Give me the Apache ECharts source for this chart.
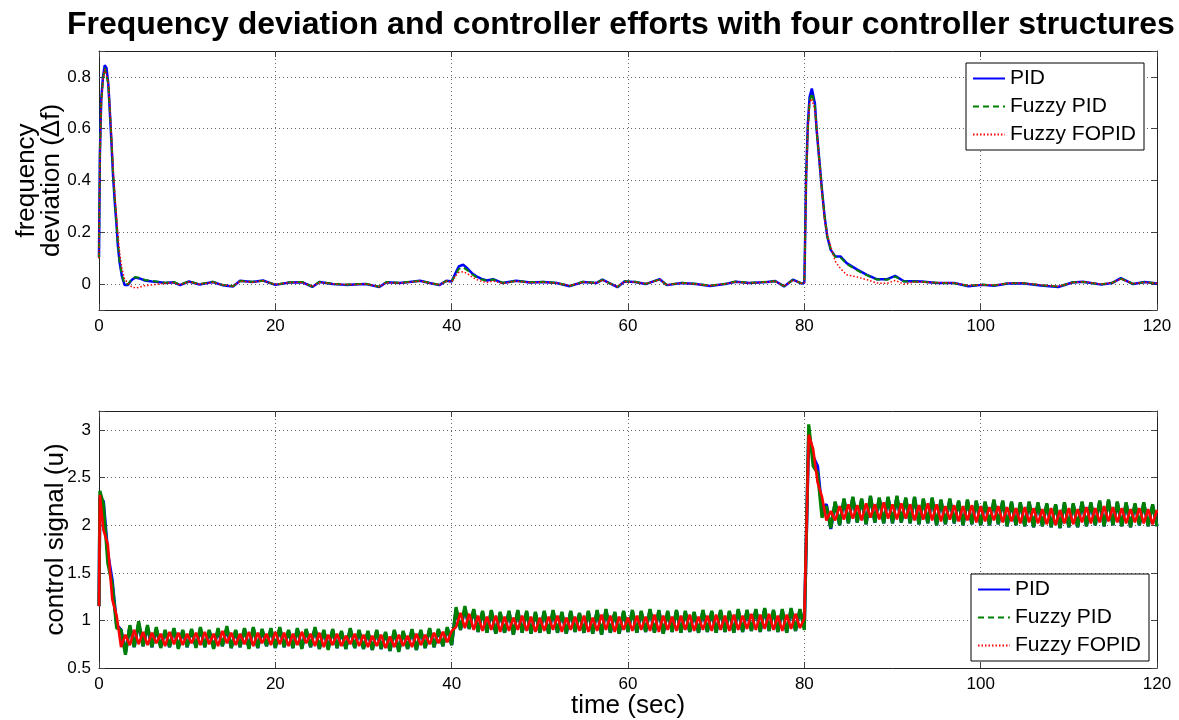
<!DOCTYPE html>
<html>
<head>
    <meta charset="utf-8">
    <script src="https://cdn.jsdelivr.net/npm/echarts@6.0.0/dist/echarts.min.js"></script>
    <style>
        body { margin: 0; background: #fff; }
        #main { width: 1179px; height: 720px; }
    </style>
</head>

<body>
    <div id="main"></div>

    <script type="text/javascript">
        var names = ['PID', 'Fuzzy PID', 'Fuzzy FOPID'];
        var colors = ['#0000ff', '#008000', '#ff0000'];

        // top plot: frequency deviation, sample times (sec)
        var tF = [
            0, 0.1, 0.25, 0.45, 0.65, 0.85, 1.05, 1.2, 1.4, 1.6,
            1.8, 2.0, 2.15, 2.35, 2.6, 2.9, 3.3, 3.7, 4.1, 4.6,
            5.2, 6, 6.7, 7.5, 8.5, 9.2, 10.2, 11.4, 12.9, 14,
            15.2, 16, 17.4, 18.6, 20, 21.6, 23.1, 24.2, 25, 26.5,
            28, 29.5, 30.3, 31.8, 32.6, 34.1, 35.2, 36.4, 37.5, 38.6,
            39.4, 40, 40.4, 40.8, 41.3, 41.8, 42.3, 42.8, 43.4, 44,
            44.7, 45.8, 47.3, 48.9, 50.4, 51.9, 53.4, 54.9, 56.4, 57.1,
            58.8, 59.6, 60.8, 62, 63.6, 64.4, 66.1, 67.7, 69.3, 71,
            72.2, 73.8, 75.8, 76.7, 77.7, 78.7, 79.7, 80, 80.1, 80.2,
            80.4, 80.6, 80.85, 81.2, 81.4, 81.7, 82, 82.3, 82.6, 83,
            83.5, 84.1, 84.8, 86, 87.1, 88.2, 89.4, 90.3, 91.3, 92.4,
            93.3, 95, 97, 98.6, 100.2, 101.5, 103.1, 104.7, 106.8, 108.8,
            110.4, 111.6, 113.7, 114.9, 115.9, 117.3, 118.6, 120
        ];
        var pidF = [
            0.105, 0.5, 0.71, 0.8, 0.845, 0.835, 0.774, 0.684, 0.556, 0.415,
            0.312, 0.222, 0.145, 0.081, 0.03, -0.003, -0.003, 0.016, 0.025, 0.022,
            0.014, 0.01, 0.008, 0.004, 0.007, -0.004, 0.01, -0.002, 0.008, -0.004,
            -0.009, 0.013, 0.008, 0.014, -0.003, 0.006, 0.007, -0.011, 0.008, 0,
            -0.003, -0.001, 0, -0.011, 0.007, 0.004, 0.008, 0.013, 0.004, -0.004,
            0.013, 0.01, 0.04, 0.068, 0.075, 0.06, 0.042, 0.03, 0.02, 0.014,
            0.019, 0.004, 0.013, 0.006, 0.008, 0.004, -0.008, 0.008, 0.004, 0.017,
            -0.012, 0.01, 0.008, 0, 0.019, -0.004, 0.004, 0, -0.007, 0,
            0.009, 0.004, 0.008, 0.012, -0.009, 0.017, 0.002, 0.005, 0.197, 0.414,
            0.62, 0.723, 0.755, 0.697, 0.594, 0.479, 0.364, 0.26, 0.184, 0.132,
            0.107, 0.107, 0.081, 0.056, 0.036, 0.019, 0.019, 0.032, 0.011, 0.011,
            0.01, 0.004, 0.004, -0.008, -0.003, -0.006, 0.002, 0.003, -0.005, -0.011,
            0.006, 0.009, -0.002, 0.004, 0.023, 0, 0.008, 0.002
        ];
        var fpidF = [
            0.1, 0.49, 0.7, 0.79, 0.835, 0.83, 0.775, 0.69, 0.565, 0.425,
            0.32, 0.23, 0.15, 0.085, 0.034, 0, 0, 0.018, 0.027, 0.024,
            0.016, 0.012, 0.009, 0.005, 0.008, -0.002, 0.011, 0, 0.009, -0.003,
            -0.008, 0.012, 0.009, 0.013, -0.002, 0.007, 0.008, -0.01, 0.009, 0.001,
            -0.002, 0, 0.001, -0.01, 0.008, 0.005, 0.009, 0.012, 0.005, -0.003,
            0.012, 0.01, 0.035, 0.058, 0.065, 0.053, 0.038, 0.027, 0.018, 0.013,
            0.018, 0.005, 0.012, 0.007, 0.009, 0.005, -0.007, 0.009, 0.005, 0.016,
            -0.011, 0.011, 0.009, 0.001, 0.018, -0.003, 0.005, 0.001, -0.006, 0.001,
            0.01, 0.005, 0.009, 0.011, -0.008, 0.016, 0.003, 0.005, 0.19, 0.4,
            0.6, 0.705, 0.738, 0.69, 0.59, 0.478, 0.365, 0.262, 0.186, 0.133,
            0.105, 0.103, 0.078, 0.053, 0.034, 0.018, 0.017, 0.029, 0.01, 0.01,
            0.009, 0.005, 0.003, -0.007, -0.002, -0.005, 0.003, 0.004, -0.004, -0.01,
            0.007, 0.008, -0.001, 0.005, 0.021, 0.001, 0.007, 0.003
        ];
        var fopidF = [
            0.1, 0.48, 0.69, 0.79, 0.83, 0.825, 0.78, 0.7, 0.58, 0.45,
            0.345, 0.26, 0.19, 0.12, 0.06, 0.02, 0.003, -0.01, -0.015, -0.012,
            -0.006, -0.003, 0, 0.003, 0.006, -0.003, 0.009, -0.001, 0.007, -0.003,
            -0.008, 0.012, 0.007, 0.013, -0.002, 0.006, 0.006, -0.01, 0.007, 0.001,
            -0.002, -0.001, 0.001, -0.01, 0.006, 0.004, 0.007, 0.012, 0.004, -0.003,
            0.011, 0.008, 0.03, 0.045, 0.048, 0.04, 0.028, 0.018, 0.01, 0.006,
            0.012, 0.003, 0.011, 0.006, 0.007, 0.004, -0.006, 0.008, 0.004, 0.015,
            -0.01, 0.009, 0.008, 0.001, 0.017, -0.003, 0.004, 0, -0.006, 0.001,
            0.008, 0.004, 0.008, 0.011, -0.008, 0.015, 0.003, 0.005, 0.18, 0.39,
            0.6, 0.7, 0.716, 0.671, 0.6, 0.48, 0.35, 0.25, 0.19, 0.145,
            0.088, 0.06, 0.036, 0.027, 0.017, 0.004, 0.003, 0.014, 0, 0.008,
            0.008, 0.005, 0.005, -0.006, -0.002, -0.004, 0.003, 0.004, -0.003, -0.009,
            0.006, 0.009, 0, 0.005, 0.02, 0.002, 0.007, 0.003
        ];

        // bottom plot: control signal, sample times (sec)
        var tU = [
            0, 0.1,
            0.5, 1, 1.5, 2, 2.5, 3, 3.5, 4, 4.5, 5, 5.5, 6, 6.5, 7, 7.5, 8, 8.5, 9, 9.5, 10,
            10.5, 11, 11.5, 12, 12.5, 13, 13.5, 14, 14.5, 15, 15.5, 16, 16.5, 17, 17.5, 18, 18.5, 19, 19.5, 20,
            20.5, 21, 21.5, 22, 22.5, 23, 23.5, 24, 24.5, 25, 25.5, 26, 26.5, 27, 27.5, 28, 28.5, 29, 29.5, 30,
            30.5, 31, 31.5, 32, 32.5, 33, 33.5, 34, 34.5, 35, 35.5, 36, 36.5, 37, 37.5, 38, 38.5, 39, 39.5, 40,
            40.5, 41, 41.5, 42, 42.5, 43, 43.5, 44, 44.5, 45, 45.5, 46, 46.5, 47, 47.5, 48, 48.5, 49, 49.5, 50,
            50.5, 51, 51.5, 52, 52.5, 53, 53.5, 54, 54.5, 55, 55.5, 56, 56.5, 57, 57.5, 58, 58.5, 59, 59.5, 60,
            60.5, 61, 61.5, 62, 62.5, 63, 63.5, 64, 64.5, 65, 65.5, 66, 66.5, 67, 67.5, 68, 68.5, 69, 69.5, 70,
            70.5, 71, 71.5, 72, 72.5, 73, 73.5, 74, 74.5, 75, 75.5, 76, 76.5, 77, 77.5, 78, 78.5, 79, 79.5, 80,
            80.5, 81, 81.5, 82, 82.5, 83, 83.5, 84, 84.5, 85, 85.5, 86, 86.5, 87, 87.5, 88, 88.5, 89, 89.5, 90,
            90.5, 91, 91.5, 92, 92.5, 93, 93.5, 94, 94.5, 95, 95.5, 96, 96.5, 97, 97.5, 98, 98.5, 99, 99.5, 100,
            100.5, 101, 101.5, 102, 102.5, 103, 103.5, 104, 104.5, 105, 105.5, 106, 106.5, 107, 107.5, 108, 108.5, 109, 109.5, 110,
            110.5, 111, 111.5, 112, 112.5, 113, 113.5, 114, 114.5, 115, 115.5, 116, 116.5, 117, 117.5, 118, 118.5, 119, 119.5, 120
        ];
        var pidU = [
            1.15, 2.3,
            2.25, 1.7, 1.42, 0.95, 0.9, 0.66, 0.94, 0.72, 0.97, 0.73, 0.93, 0.72, 0.91, 0.72, 0.89, 0.72, 0.91, 0.71, 0.89, 0.72,
            0.9, 0.72, 0.91, 0.72, 0.89, 0.71, 0.9, 0.73, 0.92, 0.71, 0.89, 0.72, 0.91, 0.71, 0.92, 0.71, 0.9, 0.73, 0.91, 0.71,
            0.92, 0.72, 0.89, 0.71, 0.91, 0.71, 0.9, 0.72, 0.92, 0.7, 0.89, 0.7, 0.9, 0.71, 0.88, 0.7, 0.91, 0.71, 0.89, 0.7,
            0.88, 0.69, 0.89, 0.7, 0.87, 0.68, 0.89, 0.68, 0.88, 0.7, 0.9, 0.69, 0.89, 0.71, 0.91, 0.72, 0.9, 0.73, 0.92, 0.74,
            1.12, 0.9, 1.13, 0.91, 1.11, 0.88, 1.09, 0.87, 1.1, 0.86, 1.08, 0.87, 1.09, 0.85, 1.1, 0.87, 1.09, 0.86, 1.08, 0.87,
            1.09, 0.86, 1.1, 0.87, 1.08, 0.86, 1.09, 0.88, 1.07, 0.87, 1.09, 0.86, 1.1, 0.85, 1.11, 0.87, 1.08, 0.86, 1.09, 0.88,
            1.1, 0.87, 1.09, 0.88, 1.11, 0.87, 1.1, 0.86, 1.09, 0.88, 1.1, 0.87, 1.09, 0.88, 1.08, 0.87, 1.1, 0.88, 1.09, 0.87,
            1.1, 0.88, 1.09, 0.87, 1.11, 0.88, 1.1, 0.89, 1.11, 0.88, 1.12, 0.89, 1.1, 0.88, 1.11, 0.87, 1.12, 0.89, 1.11, 0.92,
            2.98, 2.72, 2.62, 2.16, 2.22, 1.96, 2.24, 2, 2.27, 2.02, 2.29, 2.03, 2.27, 2.01, 2.3, 2.03, 2.28, 2.02, 2.29, 2.02,
            2.3, 2.03, 2.28, 2.02, 2.29, 2.01, 2.27, 2.02, 2.28, 2, 2.26, 2.01, 2.27, 2.02, 2.25, 2, 2.26, 2.01, 2.25, 2,
            2.24, 2, 2.26, 2.01, 2.25, 1.99, 2.24, 2, 2.23, 1.99, 2.24, 1.98, 2.23, 1.99, 2.22, 1.98, 2.21, 1.97, 2.23, 1.98,
            2.22, 1.98, 2.24, 1.99, 2.23, 2, 2.25, 1.99, 2.26, 2, 2.24, 1.99, 2.23, 1.98, 2.22, 2, 2.23, 1.99, 2.21, 1.99
        ];
        var fpidU = [
            1.15, 2.36,
            2.22, 1.6, 1.38, 0.92, 0.9, 0.64, 0.95, 0.72, 0.99, 0.73, 0.95, 0.72, 0.93, 0.71, 0.9, 0.72, 0.92, 0.7, 0.9, 0.72,
            0.91, 0.71, 0.93, 0.72, 0.9, 0.7, 0.92, 0.73, 0.94, 0.71, 0.9, 0.72, 0.92, 0.7, 0.93, 0.71, 0.91, 0.73, 0.92, 0.71,
            0.93, 0.72, 0.9, 0.71, 0.92, 0.7, 0.91, 0.72, 0.93, 0.7, 0.9, 0.69, 0.91, 0.71, 0.89, 0.7, 0.92, 0.71, 0.9, 0.7,
            0.89, 0.69, 0.9, 0.7, 0.88, 0.68, 0.9, 0.67, 0.89, 0.7, 0.91, 0.69, 0.9, 0.71, 0.92, 0.72, 0.91, 0.73, 0.93, 0.74,
            1.14, 0.9, 1.15, 0.91, 1.12, 0.88, 1.1, 0.87, 1.11, 0.86, 1.09, 0.87, 1.1, 0.85, 1.11, 0.87, 1.1, 0.86, 1.09, 0.87,
            1.1, 0.86, 1.11, 0.87, 1.09, 0.86, 1.1, 0.88, 1.08, 0.87, 1.1, 0.86, 1.11, 0.85, 1.12, 0.87, 1.09, 0.86, 1.1, 0.88,
            1.11, 0.87, 1.1, 0.88, 1.12, 0.87, 1.11, 0.86, 1.1, 0.88, 1.11, 0.87, 1.1, 0.88, 1.09, 0.87, 1.11, 0.88, 1.1, 0.87,
            1.11, 0.88, 1.1, 0.87, 1.12, 0.88, 1.11, 0.89, 1.12, 0.88, 1.13, 0.89, 1.11, 0.88, 1.12, 0.87, 1.13, 0.89, 1.12, 0.9,
            3.06, 2.62, 2.55, 2.08, 2.2, 1.97, 2.25, 2, 2.28, 2.02, 2.3, 2.03, 2.28, 2.01, 2.31, 2.03, 2.29, 2.02, 2.3, 2.02,
            2.31, 2.03, 2.29, 2.02, 2.3, 2.01, 2.28, 2.02, 2.29, 2, 2.27, 2.01, 2.28, 2.02, 2.26, 2, 2.27, 2.01, 2.26, 2,
            2.25, 2, 2.27, 2.01, 2.26, 1.99, 2.25, 2, 2.24, 1.99, 2.25, 1.98, 2.24, 1.99, 2.23, 1.98, 2.22, 1.97, 2.24, 1.98,
            2.23, 1.98, 2.25, 1.99, 2.24, 2, 2.26, 1.99, 2.27, 2, 2.25, 1.99, 2.24, 1.98, 2.23, 2, 2.24, 1.99, 2.22, 1.99
        ];
        var fopidU = [
            1.15, 2.32,
            1.95, 1.8, 1.22, 1.05, 0.72, 0.85, 0.74, 0.9, 0.75, 0.88, 0.74, 0.87, 0.76, 0.86, 0.73, 0.88, 0.75, 0.87, 0.74, 0.86,
            0.76, 0.87, 0.74, 0.88, 0.75, 0.86, 0.73, 0.89, 0.76, 0.87, 0.74, 0.86, 0.75, 0.88, 0.73, 0.87, 0.76, 0.86, 0.74, 0.88,
            0.75, 0.87, 0.73, 0.86, 0.74, 0.88, 0.76, 0.86, 0.73, 0.87, 0.72, 0.85, 0.74, 0.86, 0.73, 0.84, 0.75, 0.86, 0.73, 0.85,
            0.72, 0.84, 0.73, 0.85, 0.71, 0.83, 0.72, 0.85, 0.73, 0.84, 0.72, 0.86, 0.74, 0.85, 0.75, 0.87, 0.76, 0.88, 0.77, 0.89,
            0.93, 1.08, 0.92, 1.07, 0.9, 1.05, 0.89, 1.04, 0.9, 1.05, 0.88, 1.04, 0.89, 1.03, 0.9, 1.05, 0.89, 1.04, 0.88, 1.03,
            0.89, 1.04, 0.9, 1.05, 0.88, 1.03, 0.9, 1.04, 0.89, 1.05, 0.88, 1.03, 0.89, 1.06, 0.9, 1.05, 0.88, 1.04, 0.9, 1.03,
            0.89, 1.05, 0.9, 1.04, 0.89, 1.06, 0.88, 1.05, 0.9, 1.04, 0.89, 1.05, 0.9, 1.06, 0.89, 1.04, 0.9, 1.05, 0.89, 1.06,
            0.9, 1.05, 0.89, 1.06, 0.9, 1.05, 0.91, 1.07, 0.9, 1.06, 0.91, 1.07, 0.9, 1.05, 0.89, 1.06, 0.91, 1.07, 0.92, 1.02,
            2.95, 2.8, 2.45, 2.3, 2.05, 2.15, 2.05, 2.2, 2.06, 2.22, 2.07, 2.21, 2.05, 2.23, 2.08, 2.22, 2.06, 2.24, 2.07, 2.22,
            2.06, 2.23, 2.07, 2.22, 2.05, 2.21, 2.06, 2.23, 2.05, 2.22, 2.04, 2.2, 2.06, 2.21, 2.04, 2.2, 2.05, 2.21, 2.03, 2.2,
            2.04, 2.19, 2.05, 2.2, 2.03, 2.19, 2.04, 2.18, 2.02, 2.19, 2.03, 2.18, 2.02, 2.17, 2.01, 2.18, 2, 2.16, 2.02, 2.18,
            2.01, 2.17, 2.03, 2.19, 2.02, 2.18, 2.03, 2.2, 2.04, 2.19, 2.03, 2.18, 2.02, 2.17, 2.03, 2.18, 2.02, 2.17, 2.01, 2.16
        ];

        var font = 'Liberation Sans, Arial, sans-serif';

        function pairs(t, v) {
            return t.map(function (x, i) { return [x, v[i]]; });
        }

        // only label the "real" ticks, not the axis ends
        function onlyStep(step, lo, hi) {
            return function (v) {
                var k = Math.round(v / step);
                if (Math.abs(k * step - v) > 1e-6 || v < lo - 1e-6 || v > hi + 1e-6) return '';
                return String(Math.round(v * 10) / 10);
            };
        }

        var gridLine = { show: true, lineStyle: { color: '#666', type: [1, 3], width: 1 } };
        var axLine = { show: true, onZero: false, lineStyle: { color: '#222', width: 1 } };
        var tick = { show: true, inside: true, length: 6, lineStyle: { color: '#444' } };

        function xAx(grid, pos, labels, name) {
            return {
                type: 'value', gridIndex: grid, position: pos, min: 0, max: 120, interval: 20,
                axisLine: axLine, axisTick: tick,
                splitLine: pos === 'bottom' ? gridLine : { show: false },
                axisLabel: { show: labels, color: '#000', fontSize: 17, fontFamily: font, margin: 8 },
                name: name || '', nameLocation: 'middle', nameGap: 25, nameMoveOverlap: false,
                nameTextStyle: { color: '#000', fontSize: 26, fontFamily: font }
            };
        }

        function yAx(grid, pos, min, max, interval, fmt, name, gap) {
            var ax = {
                type: 'value', gridIndex: grid, position: pos, min: min, max: max,
                axisLine: axLine, axisTick: tick,
                splitLine: pos === 'left' ? gridLine : { show: false },
                axisLabel: { show: pos === 'left', color: '#000', fontSize: 17, fontFamily: font, margin: 8, formatter: fmt },
                name: name || '', nameLocation: 'middle', nameGap: gap || 30, nameRotate: 90, nameMoveOverlap: false,
                nameTextStyle: { color: '#000', fontSize: 26, fontFamily: font, lineHeight: 25 }
            };
            if (interval) ax.interval = interval; else ax.splitNumber = 5;
            return ax;
        }

        var topStyles = [
            { color: colors[0], width: 2.5, type: 'solid' },
            { color: colors[1], width: 2, type: [6, 4] },
            { color: colors[2], width: 1.5, type: [1.5, 2] }
        ];
        var botStyles = [
            { color: colors[0], width: 3.2, type: 'solid' },
            { color: colors[1], width: 3.2, type: 'solid' },
            { color: colors[2], width: 2.6, type: 'solid' }
        ];
        var topData = [pidF, fpidF, fopidF];
        var botData = [pidU, fpidU, fopidU];

        var series = [];
        names.forEach(function (n, i) {
            series.push({
                name: n, type: 'line', xAxisIndex: 0, yAxisIndex: 0, symbol: 'none',
                lineStyle: topStyles[i], itemStyle: { color: colors[i] },
                data: pairs(tF, topData[i])
            });
        });
        names.forEach(function (n, i) {
            series.push({
                name: n, type: 'line', xAxisIndex: 2, yAxisIndex: 2, symbol: 'none',
                lineStyle: botStyles[i], itemStyle: { color: colors[i] },
                data: pairs(tU, botData[i])
            });
        });

        var legendBase = {
            data: names, orient: 'vertical', itemWidth: 32, itemHeight: 14, itemGap: 7,
            padding: [5, 8, 5, 6], borderColor: '#000', borderWidth: 1, backgroundColor: '#fff',
            itemStyle: { opacity: 0 },
            textStyle: { color: '#000', fontSize: 21, fontFamily: font }
        };

        var myChart = echarts.init(document.getElementById('main'));
        myChart.setOption({
            animation: false,
            backgroundColor: '#fff',
            title: {
                text: 'Frequency deviation and controller efforts with four controller structures',
                left: 62, top: 4,
                textStyle: { color: '#000', fontSize: 32, fontWeight: 'bold', fontFamily: font }
            },
            legend: [
                Object.assign({}, legendBase, { left: 966, top: 63 }),
                Object.assign({}, legendBase, { left: 971, top: 574 })
            ],
            grid: [
                { left: 99, right: 22, top: 51, height: 259 },
                { left: 99, right: 22, top: 411, height: 258 }
            ],
            xAxis: [
                xAx(0, 'bottom', true),
                xAx(0, 'top', false),
                xAx(1, 'bottom', true, 'time (sec)'),
                xAx(1, 'top', false)
            ],
            yAxis: [
                yAx(0, 'left', -0.1, 0.9, null, onlyStep(0.2, 0, 0.8), 'frequency\ndeviation (\u0394f)', 35),
                yAx(0, 'right', -0.1, 0.9, null, null),
                yAx(1, 'left', 0.5, 3.2, 0.5, onlyStep(0.5, 0.5, 3), 'control signal (u)', 31),
                yAx(1, 'right', 0.5, 3.2, 0.5, null)
            ],
            series: series
        });
    </script>
</body>

</html>
